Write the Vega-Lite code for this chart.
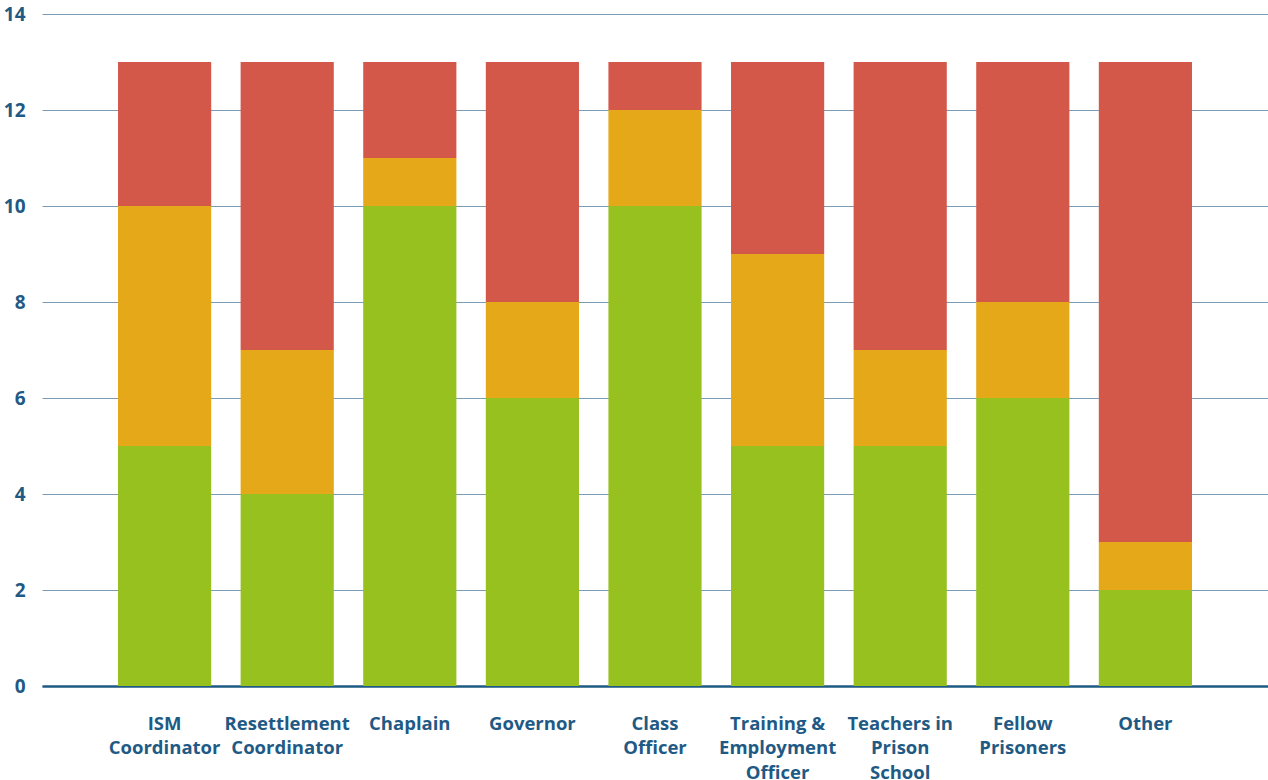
{
  "$schema": "https://vega.github.io/schema/vega-lite/v6.json",
  "width": 1226,
  "height": 672,
  "autosize": {"type": "none"},
  "padding": {"left": 42, "top": 14, "right": 0, "bottom": 94},
  "background": "white",
  "config": {"view": {"stroke": null}, "font": "Open Sans"},
  "data": {"values": [
    {"cat": "ISM|Coordinator", "seg": "A", "rank": 1, "v": 5},
    {"cat": "ISM|Coordinator", "seg": "B", "rank": 2, "v": 5},
    {"cat": "ISM|Coordinator", "seg": "C", "rank": 3, "v": 3},
    {"cat": "Resettlement|Coordinator", "seg": "A", "rank": 1, "v": 4},
    {"cat": "Resettlement|Coordinator", "seg": "B", "rank": 2, "v": 3},
    {"cat": "Resettlement|Coordinator", "seg": "C", "rank": 3, "v": 6},
    {"cat": "Chaplain", "seg": "A", "rank": 1, "v": 10},
    {"cat": "Chaplain", "seg": "B", "rank": 2, "v": 1},
    {"cat": "Chaplain", "seg": "C", "rank": 3, "v": 2},
    {"cat": "Governor", "seg": "A", "rank": 1, "v": 6},
    {"cat": "Governor", "seg": "B", "rank": 2, "v": 2},
    {"cat": "Governor", "seg": "C", "rank": 3, "v": 5},
    {"cat": "Class|Officer", "seg": "A", "rank": 1, "v": 10},
    {"cat": "Class|Officer", "seg": "B", "rank": 2, "v": 2},
    {"cat": "Class|Officer", "seg": "C", "rank": 3, "v": 1},
    {"cat": "Training &|Employment|Officer", "seg": "A", "rank": 1, "v": 5},
    {"cat": "Training &|Employment|Officer", "seg": "B", "rank": 2, "v": 4},
    {"cat": "Training &|Employment|Officer", "seg": "C", "rank": 3, "v": 4},
    {"cat": "Teachers in|Prison|School", "seg": "A", "rank": 1, "v": 5},
    {"cat": "Teachers in|Prison|School", "seg": "B", "rank": 2, "v": 2},
    {"cat": "Teachers in|Prison|School", "seg": "C", "rank": 3, "v": 6},
    {"cat": "Fellow|Prisoners", "seg": "A", "rank": 1, "v": 6},
    {"cat": "Fellow|Prisoners", "seg": "B", "rank": 2, "v": 2},
    {"cat": "Fellow|Prisoners", "seg": "C", "rank": 3, "v": 5},
    {"cat": "Other", "seg": "A", "rank": 1, "v": 2},
    {"cat": "Other", "seg": "B", "rank": 2, "v": 1},
    {"cat": "Other", "seg": "C", "rank": 3, "v": 10}
  ]},
  "mark": {"type": "bar"},
  "encoding": {
    "x": {
      "field": "cat", "type": "nominal", "sort": null,
      "scale": {"paddingInner": 0.24, "paddingOuter": 0.62},
      "axis": {
        "title": null, "labelAngle": 0, "ticks": false,
        "domainColor": "#1f5a85", "domainWidth": 2.5,
        "labelExpr": "split(datum.label, '|')",
        "labelFont": "Open Sans", "labelFontWeight": "bold", "labelFontSize": 18.5,
        "labelColor": "#1f5a85", "labelLineHeight": 24.5, "labelPadding": 37,
        "labelBaseline": "middle", "labelLimit": 0, "labelOverlap": false
      }
    },
    "y": {
      "field": "v", "type": "quantitative", "stack": "zero",
      "scale": {"domain": [0, 14]},
      "axis": {
        "title": null, "values": [0, 2, 4, 6, 8, 10, 12, 14],
        "domain": false, "ticks": false, "labelOverlap": false,
        "gridColor": "#7b9bb8", "gridWidth": 1,
        "labelFont": "Open Sans", "labelFontWeight": "bold", "labelFontSize": 19,
        "labelColor": "#1f5a85", "labelPadding": 17
      }
    },
    "color": {
      "field": "seg", "type": "nominal",
      "scale": {"domain": ["A", "B", "C"], "range": ["#96c11f", "#e5a818", "#d4584a"]},
      "legend": null
    },
    "order": {"field": "rank", "type": "quantitative"}
  }
}
